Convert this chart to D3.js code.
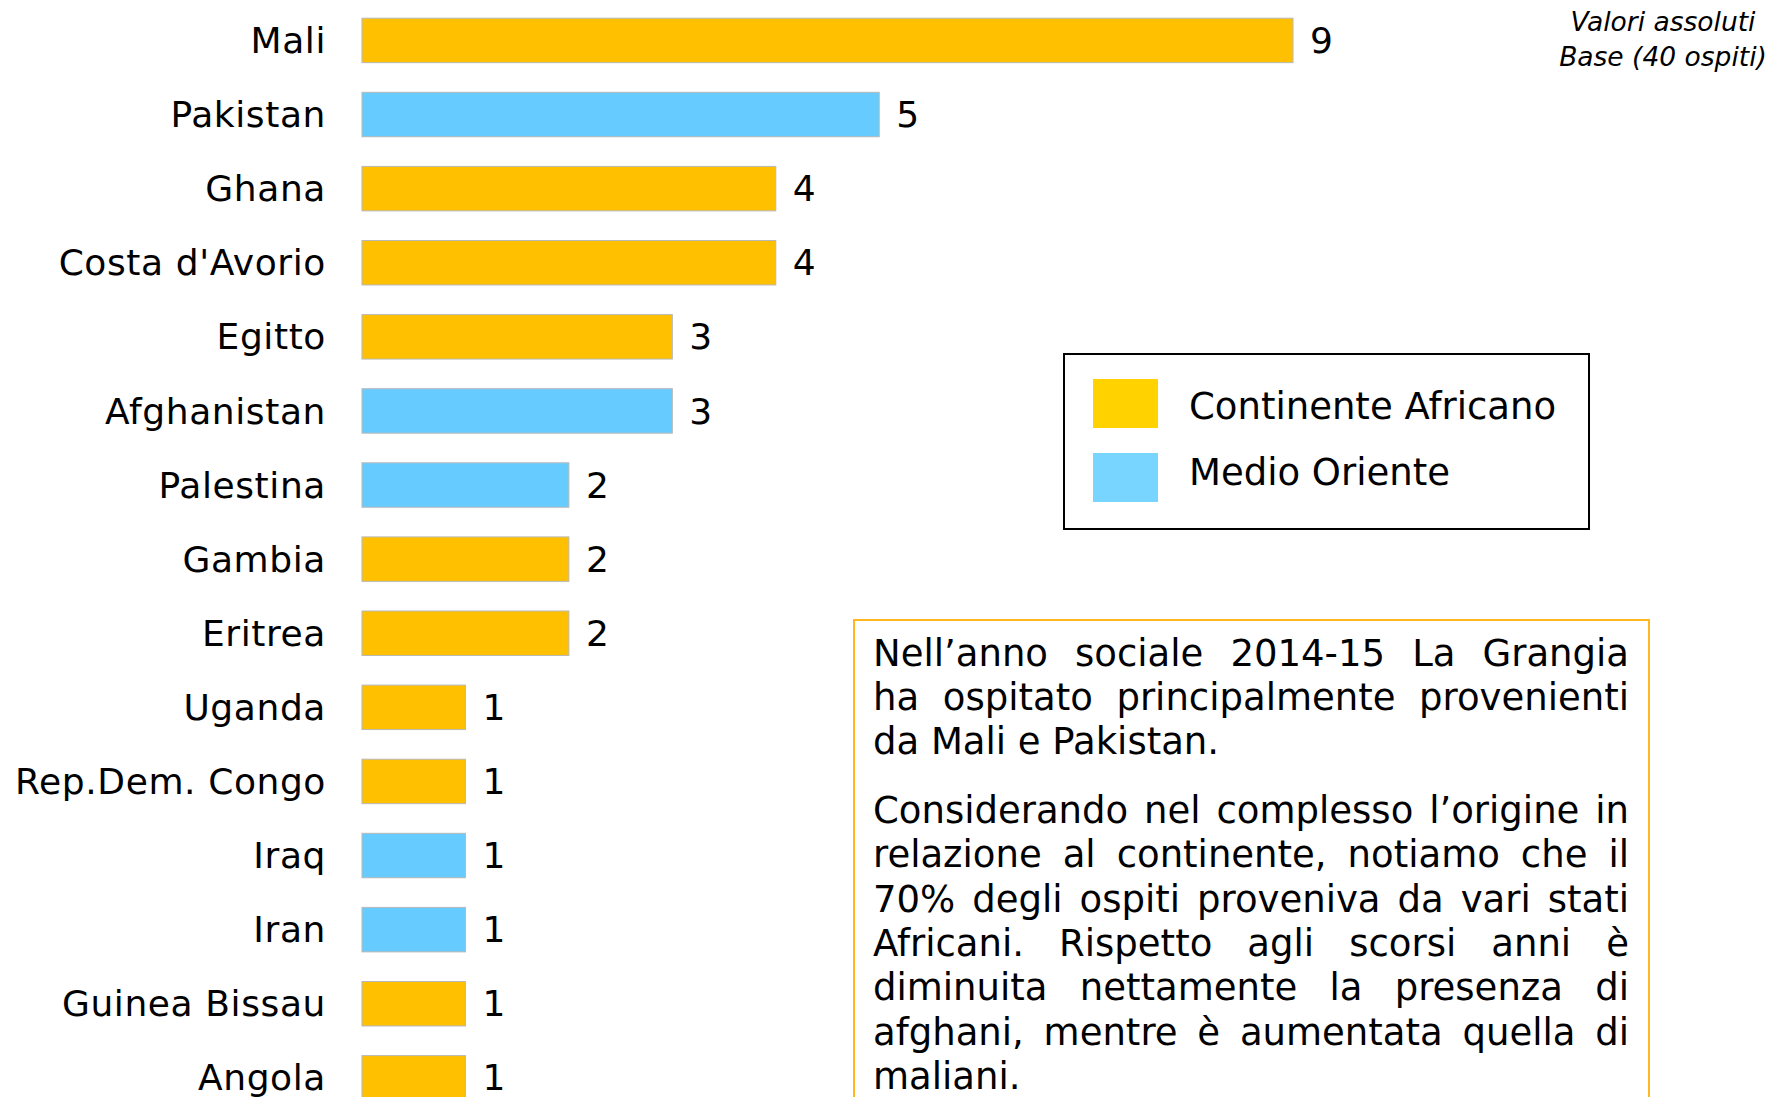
<!DOCTYPE html>
<html>
<head>
<meta charset="utf-8">
<script src="https://cdn.jsdelivr.net/npm/d3@7"></script>
<style>
  html, body { margin: 0; padding: 0; background: #fff; overflow: hidden; }
  text { font-family: "DejaVu Sans", Verdana, sans-serif; fill: #000; }
</style>
</head>
<body>
<div class="chart"></div>
<script>
const width = 1773;
const height = 1097;

const countries = ["Mali", "Pakistan", "Ghana", "Costa d'Avorio", "Egitto", "Afghanistan",
  "Palestina", "Gambia", "Eritrea", "Uganda", "Rep.Dem. Congo", "Iraq", "Iran",
  "Guinea Bissau", "Angola"]
const values = [9, 5, 4, 4, 3, 3, 2, 2, 2, 1, 1, 1, 1, 1, 1]
const regions = ["Africa", "Medio", "Africa", "Africa", "Africa", "Medio",
  "Medio", "Africa", "Africa", "Africa", "Africa", "Medio", "Medio",
  "Africa", "Africa"]

const legendKeys = ["Africa", "Medio"]
const legendLabels = ["Continente Africano", "Medio Oriente"]

const noteLines = ["Valori assoluti", "Base (40 ospiti)"]

const paragraphs = [
  ["Nell\u2019anno sociale 2014-15 La Grangia",
   "ha ospitato principalmente provenienti",
   "da Mali e Pakistan."],
  ["Considerando nel complesso l\u2019origine in",
   "relazione al continente, notiamo che il",
   "70% degli ospiti proveniva da vari stati",
   "Africani. Rispetto agli scorsi anni \u00e8",
   "diminuita nettamente la presenza di",
   "afghani, mentre \u00e8 aumentata quella di",
   "maliani."]
]

const barColor = d3.scaleOrdinal().domain(legendKeys).range(["#FFC000", "#66CCFF"])
const legendColor = d3.scaleOrdinal().domain(legendKeys).range(["#FFD200", "#77D5FF"])

const svg = d3.select(".chart")
  .append("svg")
  .attr("width", width)
  .attr("height", height)

const x = d3.scaleLinear()
  .domain([0, 9])
  .range([362, 1293])

const step = 74.1
const y = d3.scaleBand()
  .domain(countries)
  .range([18.2 - 0.2 * step, 18.2 - 0.2 * step + countries.length * step])
  .paddingInner(0.4)
  .paddingOuter(0.2)

const rows = countries.map((c, i) => ({ country: c, value: values[i], region: regions[i] }))

// bars
svg.append("g")
  .selectAll("rect")
  .data(rows)
  .join("rect")
  .attr("x", x(0))
  .attr("y", d => y(d.country))
  .attr("width", d => x(d.value) - x(0))
  .attr("height", y.bandwidth())
  .attr("fill", d => barColor(d.region))
  .attr("stroke", "#b8b8b8")
  .attr("stroke-width", 1)

// category labels
svg.append("g")
  .selectAll("text")
  .data(rows)
  .join("text")
  .attr("x", 326)
  .attr("y", d => y(d.country) + y.bandwidth() / 2)
  .attr("dy", "0.35em")
  .attr("text-anchor", "end")
  .attr("font-size", "36px")
  .attr("letter-spacing", "0.6px")
  .text(d => d.country)

// value labels
svg.append("g")
  .selectAll("text")
  .data(rows)
  .join("text")
  .attr("x", d => x(d.value) + 17)
  .attr("y", d => y(d.country) + y.bandwidth() / 2)
  .attr("dy", "0.35em")
  .attr("font-size", "36px")
  .text(d => d.value)

// note top right
svg.append("g")
  .selectAll("text")
  .data(noteLines)
  .join("text")
  .attr("x", 1663)
  .attr("y", (d, i) => 31 + i * 34.5)
  .attr("text-anchor", "middle")
  .attr("font-size", "26.5px")
  .attr("font-style", "italic")
  .text(d => d)

// legend
const legend = svg.append("g")
legend.append("rect")
  .attr("x", 1064)
  .attr("y", 354)
  .attr("width", 525)
  .attr("height", 175)
  .attr("fill", "none")
  .attr("stroke", "#000")
  .attr("stroke-width", 2)

legend.selectAll(".swatch")
  .data(legendKeys)
  .join("rect")
  .attr("class", "swatch")
  .attr("x", 1093)
  .attr("y", (d, i) => 379 + i * 74)
  .attr("width", 65)
  .attr("height", 49)
  .attr("fill", d => legendColor(d))

legend.selectAll(".legend-label")
  .data(legendLabels)
  .join("text")
  .attr("class", "legend-label")
  .attr("x", 1189)
  .attr("y", (d, i) => 419 + i * 65.5)
  .attr("font-size", "37px")
  .text(d => d)

// comment box
svg.append("rect")
  .attr("x", 854)
  .attr("y", 620)
  .attr("width", 795)
  .attr("height", 520)
  .attr("fill", "none")
  .attr("stroke", "#FFB820")
  .attr("stroke-width", 2)

const textLeft = 873
const textRight = 1629
const lineGap = 44.4
let baseline = 665.5

const box = svg.append("g")
paragraphs.forEach((para, p) => {
  para.forEach((line, i) => {
    const t = box.append("text")
      .attr("x", textLeft)
      .attr("y", baseline)
      .attr("font-size", "37px")
      .text(line)
    // justify all lines except the last one of each paragraph
    if (i < para.length - 1) {
      const spaces = line.split(" ").length - 1
      const w = t.node().getComputedTextLength()
      if (spaces > 0) t.style("word-spacing", `${(textRight - textLeft - w) / spaces}px`)
    }
    baseline += lineGap
  })
  baseline += 24
})
</script>
</body>
</html>
